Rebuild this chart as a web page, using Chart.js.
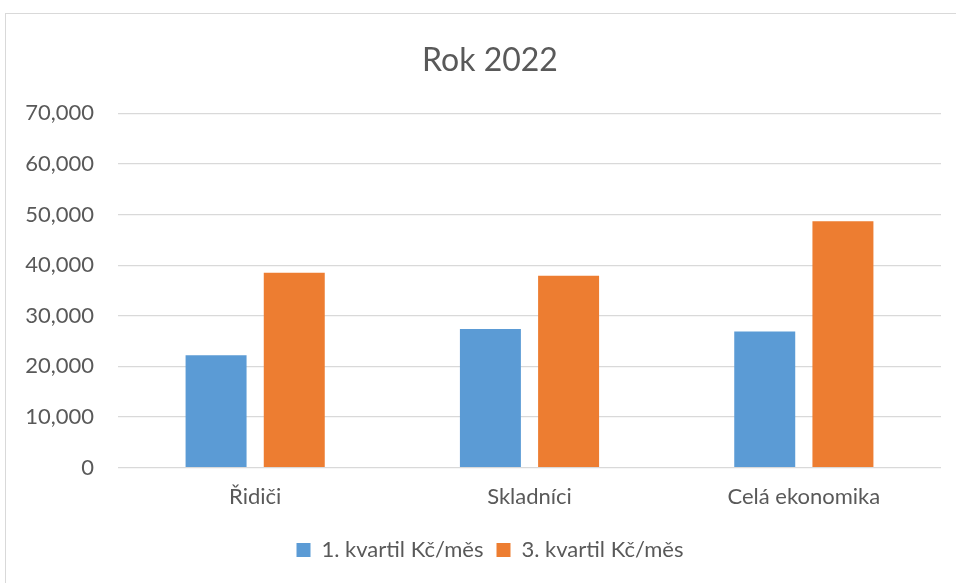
<!DOCTYPE html>
<html>
<head>
<meta charset="utf-8">
<script src="https://cdn.jsdelivr.net/npm/chart.js@4/dist/chart.umd.min.js"></script>
<style>
  html, body { margin: 0; padding: 0; background: #fff; }
  #ramecek { position: absolute; left: 5px; top: 13px; width: 960px; height: 580px; border: 1px solid #d9d9d9; box-sizing: border-box; }
  #obal { position: absolute; left: 0; top: 0; width: 956px; height: 583px; }
</style>
</head>
<body>
<div id="ramecek"></div>
<div id="obal"><canvas id="graf" width="956" height="583"></canvas></div>
<script>
// data
const kategorie = ['Řidiči', 'Skladníci', 'Celá ekonomika'];
const kvartil1 = [22200, 27400, 26900];
const kvartil3 = [38500, 37900, 48700];
const nazvySerii = ['1. kvartil Kč/měs', '3. kvartil Kč/měs'];
const titulek = 'Rok 2022';

const sedaText = '#595959';
const pismo = 'Lato, Carlito, Calibri, sans-serif';

// titulek a legenda v excelu nejsou na stredu platna, posuneme je kousek doprava
const posunStred = {
    id: 'posunStred',
    afterLayout(chart) {
        chart.titleBlock.left += 39;
        chart.legend.left += 39;
    }
};

const ctx = document.getElementById('graf');
const graf = new Chart(ctx, {
    type: 'bar',
    data: {
        labels: kategorie,
        datasets: [
            {
                label: nazvySerii[0],
                data: kvartil1,
                backgroundColor: '#5B9BD5',
                categoryPercentage: 0.57,
                barPercentage: 0.78
            },
            {
                label: nazvySerii[1],
                data: kvartil3,
                backgroundColor: '#ED7D31',
                categoryPercentage: 0.57,
                barPercentage: 0.78
            }
        ]
    },
    plugins: [posunStred],
    options: {
        responsive: false,
        animation: false,
        devicePixelRatio: 1,
        layout: { padding: { top: 41, right: 15, bottom: 12, left: 0 } },
        plugins: {
            title: {
                display: true,
                text: titulek,
                color: sedaText,
                font: { family: pismo, size: 32, weight: 'normal' },
                padding: { top: 0, bottom: 34 }
            },
            legend: {
                position: 'bottom',
                labels: {
                    color: sedaText,
                    font: { family: pismo, size: 22 },
                    boxWidth: 14,
                    boxHeight: 14,
                    padding: 13
                }
            },
            tooltip: { enabled: false }
        },
        scales: {
            x: {
                grid: { display: false, drawTicks: false },
                border: { display: false },
                ticks: {
                    color: sedaText,
                    font: { family: pismo, size: 22 },
                    padding: 16
                }
            },
            y: {
                min: 0,
                max: 70000,
                afterFit: function (osa) { osa.width = 118; },
                grid: { color: '#d9d9d9', lineWidth: 1.3, drawTicks: false },
                border: { display: false },
                ticks: {
                    stepSize: 10000,
                    color: sedaText,
                    font: { family: pismo, size: 22 },
                    padding: 24,
                    callback: function (v) { return v.toLocaleString('en-US'); }
                }
            }
        }
    }
});
</script>
</body>
</html>
